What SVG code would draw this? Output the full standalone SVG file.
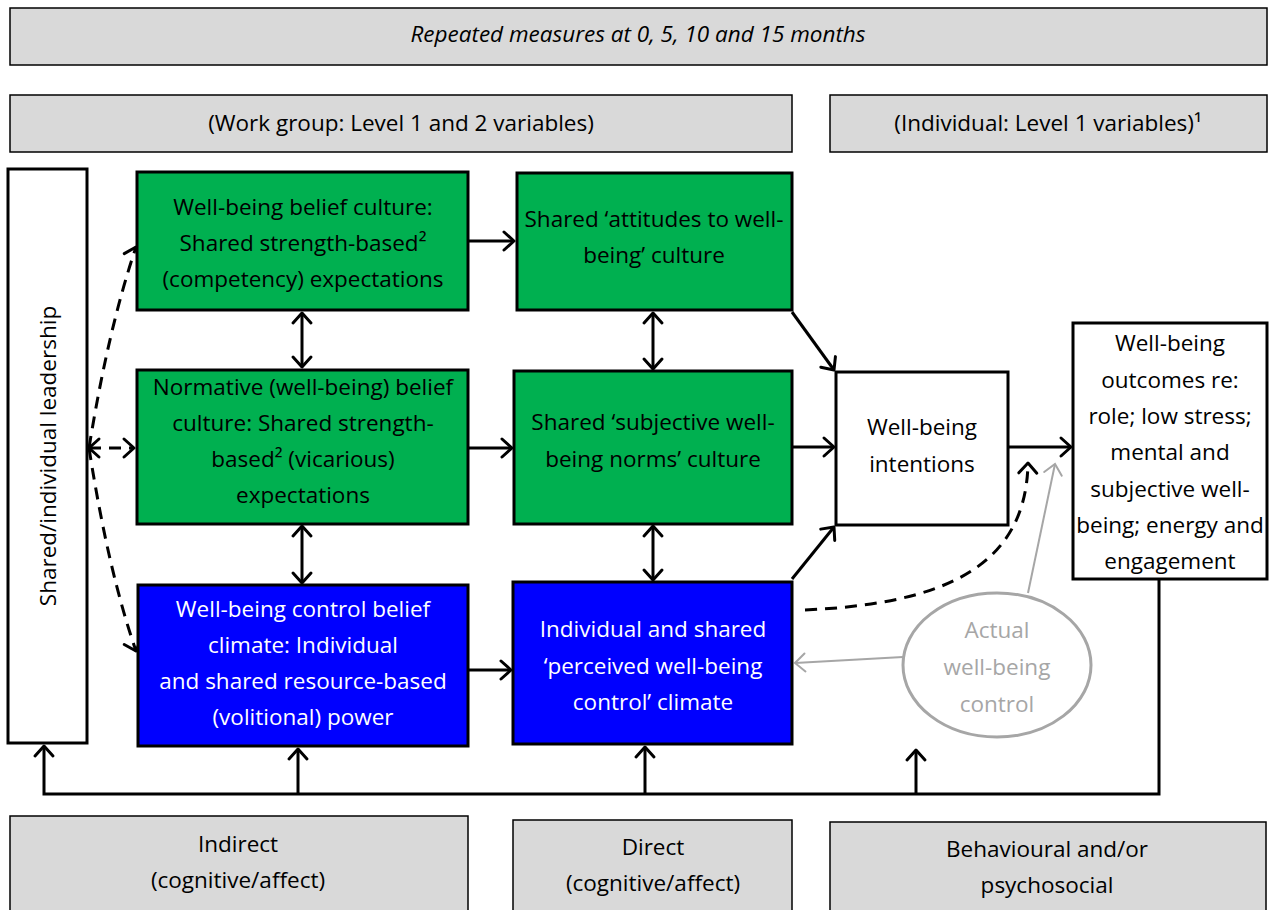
<svg xmlns="http://www.w3.org/2000/svg" width="1277" height="910" viewBox="0 0 1277 910">
<style>
text{font-family:"Open Sans",Lato,"Liberation Sans",sans-serif;font-size:22.5px;fill:#000;text-anchor:middle}
.w{fill:#fff}
.g{fill:#a6a6a6}
.hdr{fill:#d9d9d9;stroke:#000;stroke-width:1.5}
.grn{fill:#00b050;stroke:#000;stroke-width:3}
.blu{fill:#0000ff;stroke:#000;stroke-width:3}
.wht{fill:#fff;stroke:#000;stroke-width:3}
.ln{fill:none;stroke:#000;stroke-width:3}
.ar{marker-end:url(#ah)}
.da{stroke-dasharray:12 8}
.gl{fill:none;stroke:#a6a6a6;stroke-width:2;marker-end:url(#gah)}
</style>
<defs>
<marker id="ah" markerUnits="userSpaceOnUse" markerWidth="26" markerHeight="26" viewBox="-13 -13 26 26" refX="0" refY="0" orient="auto-start-reverse">
<path d="M-10,-9 L0,0 L-10,9" fill="none" stroke="#000" stroke-width="3" stroke-linecap="round" stroke-linejoin="round"/>
</marker>
<marker id="gah" markerUnits="userSpaceOnUse" markerWidth="26" markerHeight="26" viewBox="-13 -13 26 26" refX="0" refY="0" orient="auto">
<path d="M-10,-9 L0,0 L-10,9" fill="none" stroke="#a6a6a6" stroke-width="2" stroke-linecap="round"/>
</marker>
</defs>
<rect width="1277" height="910" fill="#fff"/>

<g id="header-repeated">
<rect class="hdr" x="10" y="8" width="1257" height="57"/>
<text x="638" y="42" font-style="italic">Repeated measures at 0, 5, 10 and 15 months</text>
</g>
<g id="header-workgroup">
<rect class="hdr" x="10" y="95" width="782" height="57"/>
<text x="401" y="131">(Work group: Level 1 and 2 variables)</text>
</g>
<g id="header-individual">
<rect class="hdr" x="830" y="95" width="437" height="57"/>
<text x="1048" y="131">(Individual: Level 1 variables)¹</text>
</g>

<g id="connectors">
<line class="ln ar" x1="468" y1="241" x2="514" y2="241"/>
<line class="ln ar" x1="468" y1="448" x2="512" y2="448"/>
<line class="ln ar" x1="468" y1="670" x2="511" y2="670"/>
<line class="ln ar" x1="792" y1="312" x2="834" y2="370"/>
<line class="ln ar" x1="792" y1="447" x2="834" y2="447"/>
<line class="ln ar" x1="792" y1="579" x2="834" y2="527"/>
<line class="ln ar" x1="1008" y1="447" x2="1071" y2="447"/>
<line class="ln" x1="302" y1="313" x2="302" y2="367" marker-start="url(#ah)" marker-end="url(#ah)"/>
<line class="ln" x1="302" y1="526" x2="302" y2="583" marker-start="url(#ah)" marker-end="url(#ah)"/>
<line class="ln" x1="653" y1="313" x2="653" y2="369" marker-start="url(#ah)" marker-end="url(#ah)"/>
<line class="ln" x1="653" y1="526" x2="653" y2="580" marker-start="url(#ah)" marker-end="url(#ah)"/>
<line class="ln da" x1="89" y1="448" x2="134" y2="448" marker-start="url(#ah)" marker-end="url(#ah)"/>
<path class="ln da ar" d="M89,448 Q108,330 136,247"/>
<path class="ln da ar" d="M89,448 Q108,570 136,651"/>
<path class="ln da ar" d="M805,610 C935,604 1026,572 1028,463"/>
<line class="gl" x1="1028" y1="593" x2="1055" y2="464"/>
<line class="gl" x1="903" y1="657" x2="795" y2="663"/>
<polyline class="ln" points="1159,579 1159,794 44,794 44,746" marker-end="url(#ah)"/>
<line class="ln ar" x1="298" y1="794" x2="298" y2="749"/>
<line class="ln ar" x1="645" y1="794" x2="645" y2="747"/>
<line class="ln ar" x1="916" y1="794" x2="916" y2="750"/>
</g>

<g id="leadership">
<rect class="wht" x="8" y="169" width="79" height="574"/>
<text transform="translate(56,456) rotate(-90)">Shared/individual leadership</text>
</g>

<g id="wb-belief-culture">
<rect class="grn" x="137" y="172" width="331" height="138"/>
<text x="303" y="215">Well-being belief culture:</text>
<text x="303" y="251">Shared strength-based²</text>
<text x="303" y="287">(competency) expectations</text>
</g>

<g id="normative-belief-culture">
<rect class="grn" x="137" y="370" width="331" height="154"/>
<text x="303" y="395">Normative (well-being) belief</text>
<text x="303" y="431">culture: Shared strength-</text>
<text x="303" y="467">based² (vicarious)</text>
<text x="303" y="503">expectations</text>
</g>

<g id="control-belief-climate">
<rect class="blu" x="138" y="585" width="330" height="161"/>
<text class="w" x="303" y="617">Well-being control belief</text>
<text class="w" x="303" y="653">climate: Individual</text>
<text class="w" x="303" y="689">and shared resource-based</text>
<text class="w" x="303" y="725">(volitional) power</text>
</g>

<g id="attitudes-culture">
<rect class="grn" x="517" y="173" width="275" height="137"/>
<text x="654" y="227">Shared ‘attitudes to well-</text>
<text x="654" y="263">being’ culture</text>
</g>

<g id="norms-culture">
<rect class="grn" x="514" y="371" width="278" height="153"/>
<text x="653" y="430">Shared ‘subjective well-</text>
<text x="653" y="467">being norms’ culture</text>
</g>

<g id="perceived-control-climate">
<rect class="blu" x="513" y="582" width="279" height="162"/>
<text class="w" x="653" y="637">Individual and shared</text>
<text class="w" x="653" y="674">‘perceived well-being</text>
<text class="w" x="653" y="710">control’ climate</text>
</g>

<g id="intentions">
<rect class="wht" x="836" y="372" width="172" height="153"/>
<text x="922" y="435">Well-being</text>
<text x="922" y="472">intentions</text>
</g>

<g id="outcomes">
<rect class="wht" x="1073" y="323" width="194" height="256"/>
<text x="1170" y="351">Well-being</text>
<text x="1170" y="388">outcomes re:</text>
<text x="1170" y="424">role; low stress;</text>
<text x="1170" y="460">mental and</text>
<text x="1170" y="497">subjective well-</text>
<text x="1170" y="533">being; energy and</text>
<text x="1170" y="569">engagement</text>
</g>

<g id="actual-control">
<ellipse cx="997" cy="665" rx="94" ry="72" fill="#fff" stroke="#a6a6a6" stroke-width="3"/>
<text class="g" x="997" y="638">Actual</text>
<text class="g" x="997" y="675">well-being</text>
<text class="g" x="997" y="712">control</text>
</g>

<g id="indirect">
<rect class="hdr" x="10" y="816" width="458" height="110"/>
<text x="238" y="852">Indirect</text>
<text x="238" y="888">(cognitive/affect)</text>
</g>
<g id="direct">
<rect class="hdr" x="513" y="820" width="279" height="110"/>
<text x="653" y="855">Direct</text>
<text x="653" y="891">(cognitive/affect)</text>
</g>
<g id="behavioural">
<rect class="hdr" x="830" y="822" width="436" height="110"/>
<text x="1047" y="857">Behavioural and/or</text>
<text x="1047" y="893">psychosocial</text>
</g>
</svg>
